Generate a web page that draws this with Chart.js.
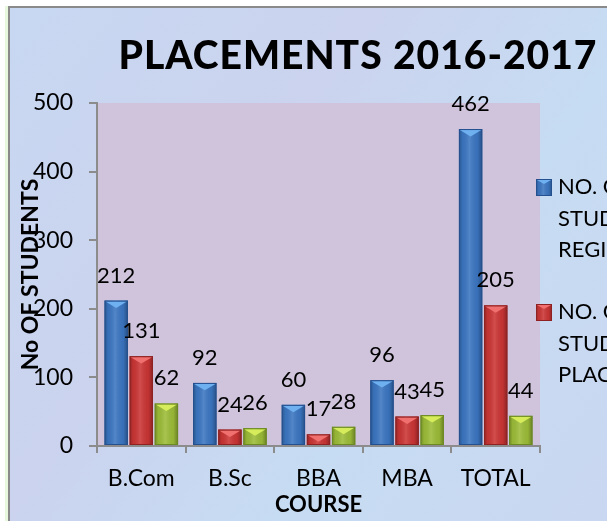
<!DOCTYPE html>
<html>
<head>
<meta charset="utf-8">
<script src="https://cdn.jsdelivr.net/npm/chart.js@4"></script>
<style>
  html, body { margin: 0; padding: 0; width: 607px; height: 521px; overflow: hidden; background: #fff; }
  #wrap { position: relative; width: 714px; height: 521px; }
</style>
</head>
<body>
<div id="wrap"><canvas id="placements"></canvas></div>
<script>
// Chart data
const courses = ['B.Com', 'B.Sc', 'BBA', 'MBA', 'TOTAL'];
const registered = [212, 92, 60, 96, 462];
const placed = [131, 24, 17, 43, 205];
const placedPercent = [62, 26, 28, 45, 44];
const yMin = 0, yMax = 500, yStep = 100;

const chartTitle = 'PLACEMENTS 2016-2017';
// Legend text (only the first two series appear in the legend)
const legendLabels = [
  ['NO. OF', 'STUDENTS', 'REGISTERED'],
  ['NO. OF', 'STUDENTS', 'PLACED']
];

const FONT = 'Lato, "Open Sans", sans-serif';
const colors = [
  { fill: '#3b76c2', dark: '#24508f', top: '#6fb0f0' },
  { fill: '#cc3535', dark: '#8e2222', top: '#f07070' },
  { fill: '#9dbd38', dark: '#6b8a22', top: '#d6ec5a' }
];

// Page background, frame and plot area
const backgroundPlugin = {
  id: 'background',
  beforeDraw(chart) {
    const { ctx, width, height, chartArea } = chart;
    ctx.save();
    ctx.fillStyle = '#ffffff';
    ctx.fillRect(0, 0, width, height);
    ctx.fillStyle = '#e8f8dc';
    ctx.fillRect(5, 6, 3, height);
    const bg = ctx.createLinearGradient(0, 0, width, height);
    bg.addColorStop(0, '#c8d8f2');
    bg.addColorStop(0.35, '#cbd3ee');
    bg.addColorStop(0.6, '#c6dcf2');
    bg.addColorStop(1, '#cbd5f0');
    ctx.fillStyle = bg;
    ctx.fillRect(8, 6, width, height);
    ctx.fillStyle = '#8a8a8a';
    ctx.fillRect(8, 6, width, 2);
    ctx.fillRect(8, 6, 2, height);
    ctx.fillStyle = '#cfc4dc';
    ctx.fillRect(chartArea.left, chartArea.top, chartArea.right - chartArea.left, chartArea.bottom - chartArea.top);
    ctx.restore();
  }
};

function drawBevel(ctx, left, top, w, h, c) {
  const g = ctx.createLinearGradient(left, 0, left + w, 0);
  g.addColorStop(0, 'rgba(0,0,0,0.28)');
  g.addColorStop(0.15, 'rgba(0,0,0,0.05)');
  g.addColorStop(0.45, 'rgba(255,255,255,0.12)');
  g.addColorStop(0.8, 'rgba(0,0,0,0.05)');
  g.addColorStop(1, 'rgba(0,0,0,0.32)');
  ctx.fillStyle = g;
  ctx.fillRect(left, top, w, h);
  // top bevel
  const tri = Math.min(w * 0.32, h);
  ctx.fillStyle = c.top;
  ctx.beginPath();
  ctx.moveTo(left + 1, top + 1);
  ctx.lineTo(left + w - 1, top + 1);
  ctx.lineTo(left + w / 2, top + tri);
  ctx.closePath();
  ctx.fill();
  ctx.strokeStyle = c.dark;
  ctx.lineWidth = 1;
  ctx.strokeRect(left + 0.5, top + 0.5, w - 1, h - 1);
}

// 3D-ish shading and value labels on bars
const barDecorPlugin = {
  id: 'barDecor',
  afterDatasetsDraw(chart) {
    const { ctx } = chart;
    ctx.save();
    chart.data.datasets.forEach((ds, i) => {
      const meta = chart.getDatasetMeta(i);
      meta.data.forEach((bar) => {
        const w = bar.width;
        const left = bar.x - w / 2;
        drawBevel(ctx, left, bar.y, w, bar.base - bar.y, colors[i]);
      });
    });
    ctx.fillStyle = '#000';
    ctx.font = '22px ' + FONT;
    ctx.textAlign = 'center';
    ctx.textBaseline = 'alphabetic';
    chart.data.datasets.forEach((ds, i) => {
      const meta = chart.getDatasetMeta(i);
      meta.data.forEach((bar, j) => {
        ctx.fillText(String(ds.data[j]), bar.x, bar.y - 18);
      });
    });
    ctx.restore();
  }
};

// Title, y axis title (overlaps tick labels like the original) and legend
const extrasPlugin = {
  id: 'extras',
  afterDraw(chart) {
    const { ctx, chartArea } = chart;
    ctx.save();
    ctx.fillStyle = '#000';
    ctx.font = '900 39px ' + FONT;
    ctx.letterSpacing = '1px';
    ctx.textAlign = 'center';
    ctx.textBaseline = 'alphabetic';
    ctx.fillText(chartTitle, 358, 69);
    ctx.restore();

    ctx.save();
    ctx.fillStyle = '#000';
    ctx.font = 'bold 23px ' + FONT;
    ctx.textAlign = 'center';
    ctx.textBaseline = 'middle';
    ctx.translate(31, (chartArea.top + chartArea.bottom) / 2);
    ctx.rotate(-Math.PI / 2);
    ctx.fillText('No OF STUDENTS', 0, 0);
    ctx.restore();

    ctx.save();
    ctx.font = '22px ' + FONT;
    ctx.textAlign = 'left';
    ctx.textBaseline = 'middle';
    const startY = [187, 312];
    legendLabels.forEach((lines, i) => {
      const y0 = startY[i];
      const c = colors[i];
      ctx.fillStyle = c.fill;
      ctx.fillRect(536, y0 - 8, 16, 17);
      drawBevel(ctx, 536, y0 - 8, 16, 17, c);
      ctx.fillStyle = '#000';
      lines.forEach((line, k) => {
        ctx.fillText(line, 558, y0 + k * 31.5);
      });
    });
    ctx.restore();
  }
};

new Chart(document.getElementById('placements'), {
  type: 'bar',
  data: {
    labels: courses,
    datasets: [
      { label: 'NO. OF STUDENTS REGISTERED', data: registered, backgroundColor: colors[0].fill },
      { label: 'NO. OF STUDENTS PLACED', data: placed, backgroundColor: colors[1].fill },
      { label: '% OF PLACEMENT', data: placedPercent, backgroundColor: colors[2].fill }
    ]
  },
  options: {
    responsive: true,
    maintainAspectRatio: false,
    animation: false,
    layout: { padding: { top: 103, right: 174, bottom: 0, left: 0 } },
    datasets: {
      bar: { categoryPercentage: 0.85, barPercentage: 0.93 }
    },
    plugins: {
      legend: { display: false },
      tooltip: { enabled: false },
      title: { display: false }
    },
    scales: {
      x: {
        afterFit(scale) { scale.height = 75; },
        grid: { offset: true, drawOnChartArea: false, drawTicks: true, tickLength: 7, color: '#8c8c8c', lineWidth: 2 },
        border: { display: true, color: '#8c8c8c', width: 2 },
        ticks: { color: '#000', font: { family: FONT, size: 23 }, padding: 12 },
        title: {
          display: true,
          text: 'COURSE',
          color: '#000',
          font: { family: FONT, size: 22, weight: 'bold', lineHeight: 1.2 },
          padding: { top: 0, bottom: 3 }
        }
      },
      y: {
        min: yMin,
        max: yMax,
        afterFit(scale) { scale.width = 97; },
        grid: { drawOnChartArea: false, drawTicks: true, tickLength: 8, color: '#8c8c8c', lineWidth: 2 },
        border: { display: true, color: '#8c8c8c', width: 2 },
        ticks: { stepSize: yStep, color: '#000', font: { family: FONT, size: 23 }, padding: 16 }
      }
    }
  },
  plugins: [backgroundPlugin, barDecorPlugin, extrasPlugin]
});
</script>
</body>
</html>
